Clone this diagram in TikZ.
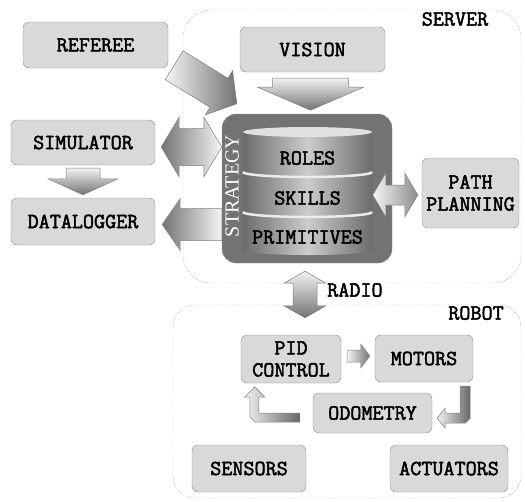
\documentclass[tikz,border=0pt]{standalone}
\usepackage{fontspec}
\setmainfont{Liberation Serif}
\newfontfamily\courfont{Latin Modern Mono}[FakeBold=2.2]
\usepackage{tikz}
\usetikzlibrary{calc}

\newcommand{\boxfont}{\courfont\fontsize{21.5}{22}\selectfont}
% fat block arrow: [shading]{tail}{tip}{shaft half width}{head half width}{head length}
\newcommand{\fatarrow}[6][]{%
  \coordinate (fa-b) at ($(#3)!#6!(#2)$);
  \shade[fatarrow,#1] ($(#2)!#4!90:(#3)$) -- ($(fa-b)!#4!90:(#3)$) -- ($(fa-b)!#5!90:(#3)$) -- (#3)
    -- ($(fa-b)!#5!-90:(#3)$) -- ($(fa-b)!#4!-90:(#3)$) -- ($(#2)!#4!-90:(#3)$) -- cycle;
}
% same with a head at both ends
\newcommand{\fatdarrow}[6][]{%
  \coordinate (fa-a) at ($(#2)!#6!(#3)$);
  \coordinate (fa-b) at ($(#3)!#6!(#2)$);
  \shade[fatarrow,#1] (#2) -- ($(fa-a)!#5!90:(#3)$) -- ($(fa-a)!#4!90:(#3)$) -- ($(fa-b)!#4!90:(#3)$)
    -- ($(fa-b)!#5!90:(#3)$) -- (#3) -- ($(fa-b)!#5!-90:(#3)$) -- ($(fa-b)!#4!-90:(#3)$)
    -- ($(fa-a)!#4!-90:(#3)$) -- ($(fa-a)!#5!-90:(#3)$) -- cycle;
}

\begin{document}
\begin{tikzpicture}[x=1pt, y=-1pt,
    box/.style={draw=black!45, fill=black!15, rounded corners=6pt, font=\boxfont, align=center, inner sep=0pt},
    region/.style={draw=black!40, dash pattern=on 1pt off 1.5pt, rounded corners=28pt},
    regionlabel/.style={font=\boxfont, inner sep=0pt},
    fatarrow/.style={draw=black!50, line width=0.5pt},
    cyl/.style={left color=black!58, right color=black!58, middle color=black!20}]
    \useasboundingbox (0,0) rectangle (525,501);

    % Draw the dotted server and robot regions
    \node[region, minimum width=338, minimum height=273] (server) at (352,146.5) {};
    \node[region, minimum width=348, minimum height=193, rounded corners=22pt] (robot) at (347,401.5) {};
    \node[regionlabel] (serverlabel) at (455,19) {SERVER};
    \node[regionlabel] (robotlabel) at (476,313) {ROBOT};

    % Draw the server side boxes
    \node[box, minimum width=145, minimum height=46] (referee) at (95.5,45) {REFEREE};
    \node[box, minimum width=145, minimum height=45] (vision) at (312.5,49.5) {VISION};
    \node[box, minimum width=144, minimum height=45] (sim) at (83,142.5) {SIMULATOR};
    \node[box, minimum width=144, minimum height=47] (data) at (83,221.5) {DATALOGGER};
    \node[box, minimum width=97, minimum height=70] (path) at (470.5,193) {PATH\\PLANNING};

    % Draw the strategy block with its cylinder
    \node[draw=black!40, fill=black!55, rounded corners=14pt, minimum width=170, minimum height=149] (strat) at (307,188.5) {};
    \shade[cyl] (243,132) rectangle (372,250);
    \shade[cyl] (307.5,250) ellipse [x radius=64.5, y radius=5];
    \fill[black!12] (307.5,132) ellipse [x radius=64.5, y radius=5];
    \draw[black!8, line width=2.5pt] (243,172) arc [start angle=180, end angle=0, x radius=64.5, y radius=5];
    \draw[black!8, line width=2.5pt] (243,212) arc [start angle=180, end angle=0, x radius=64.5, y radius=5];
    \node[font=\boxfont] (roles) at (307.5,158) {ROLES};
    \node[font=\boxfont] (skills) at (307.5,198) {SKILLS};
    \node[font=\boxfont] (prims) at (307.5,237) {PRIMITIVES};
    \node[rotate=90, text=white, font=\fontsize{20}{20}\selectfont] (stratlabel) at (232,186) {STRATEGY};

    % Draw the robot side boxes
    \node[box, minimum width=100, minimum height=48] (pid) at (291,359) {PID\\CONTROL};
    \node[box, minimum width=98, minimum height=47] (motors) at (424,358.5) {MOTORS};
    \node[box, minimum width=119, minimum height=40] (odo) at (372.5,413) {ODOMETRY};
    \node[box, minimum width=114, minimum height=47] (sensors) at (249,468.5) {SENSORS};
    \node[box, minimum width=118, minimum height=47] (act) at (449,468.5) {ACTUATORS};

    % Draw the fat arrows of the server
    \coordinate (r1) at ($(referee.south east)+(6,-3)$);
    \coordinate (r2) at ($(strat.north west)+(15,-10)$);
    \fatarrow[left color=black!4, right color=black!55]{r1}{r2}{17pt}{26pt}{21pt}
    \coordinate (v1) at ($(vision.south)+(-2,6)$);
    \coordinate (v2) at ($(vision.south)+(-2,38)$);
    \fatarrow[top color=black!5, bottom color=black!55]{v1}{v2}{38pt}{53pt}{23pt}
    \coordinate (s1) at ($(sim.east)+(6,4.5)$);
    \coordinate (s2) at (s1 -| strat.west);
    \fatdarrow[left color=black!55, right color=black!4]{s1}{s2}{18.5pt}{30pt}{18pt}
    \coordinate (d2) at ($(data.east)+(7,3)$);
    \coordinate (d1) at (d2 -| strat.west);
    \fatarrow[left color=black!55, right color=black!4]{d1}{d2}{16pt}{26pt}{18pt}
    \coordinate (sd1) at ($(sim.south)+(0,3)$);
    \coordinate (sd2) at ($(data.north)+(0,-3)$);
    \fatarrow[top color=black!5, bottom color=black!55]{sd1}{sd2}{17pt}{35pt}{16pt}
    \coordinate (p2) at ($(path.west)+(-4,2)$);
    \coordinate (p1) at ($(p2)+(-45,0)$);
    \fatdarrow[left color=black!4, right color=black!45]{p1}{p2}{10pt}{22pt}{13pt}

    % Draw the radio link
    \coordinate (rad1) at ($(strat.south)+(-2,8)$);
    \coordinate (rad2) at ($(robot.north -| strat.south)+(-2,13)$);
    \fatdarrow[top color=black!5, bottom color=black!55]{rad1}{rad2}{12pt}{21pt}{12pt}
    \node[regionlabel, anchor=west] (radio) at (327,290) {RADIO};

    % Draw the control loop arrows of the robot
    \coordinate (m1) at ($(pid.east)+(6,-3)$);
    \coordinate (m2) at ($(motors.west)+(-5,-2.5)$);
    \fatarrow[left color=black!5, right color=black!55]{m1}{m2}{6pt}{12pt}{9pt}
    \shade[fatarrow, left color=black!5, right color=black!60] ([shift={(-13,4)}]motors.south east) -- ++(10,0) -- ++(0,32) -- ++(-5,5) -- ++(-20,0)
        -- ++(0,5) -- ++(-8,-10) -- ++(8,-10) -- ++(0,5) -- ++(15,0) -- cycle;
    \shade[fatarrow, left color=black!5, right color=black!60] ([shift={(-13,0)}]odo.west) -- ++(0,9) -- ++(-45,0) -- ++(-5,-5) -- ++(0,-20)
        -- ++(-5,0) -- ++(10,-10) -- ++(10,10) -- ++(-6,0) -- ++(0,16) -- cycle;
\end{tikzpicture}
\end{document}
